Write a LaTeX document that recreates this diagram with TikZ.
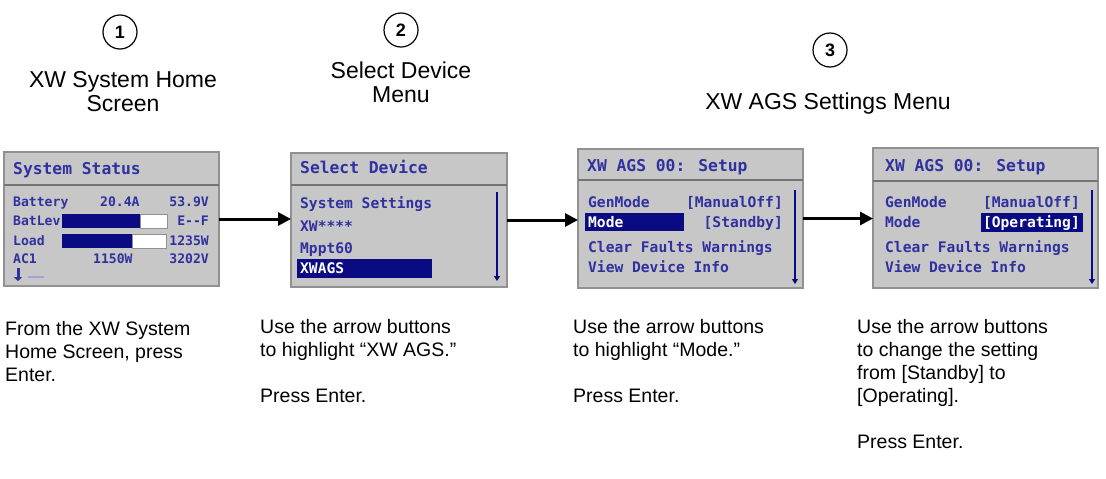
\documentclass[tikz,border=0pt]{standalone}
\usepackage{fontspec}
\setmainfont{Liberation Sans}
\newfontfamily\lcdfont{DejaVu Sans Mono}
\usepackage{tikz}
\usetikzlibrary{arrows.meta,positioning}

\definecolor{lcdbg}{RGB}{198,199,198}
\definecolor{lcdedge}{RGB}{145,145,145}
\definecolor{lcdink}{RGB}{48,48,160}
\definecolor{lcdsel}{RGB}{10,10,130}

\begin{document}
\begin{tikzpicture}[
  x=1pt, y=-1pt,
  screen/.style={draw=lcdedge, fill=lcdbg, line width=1.5pt, inner sep=0pt, outer sep=0pt, anchor=north west},
  hdr/.style={font=\lcdfont\bfseries\fontsize{16.3}{17}\selectfont, text=lcdink, anchor=base west, inner sep=0pt},
  lcdrow/.style={font=\lcdfont\bfseries\fontsize{14.6}{15}\selectfont, text=lcdink, anchor=base west, inner sep=0pt},
  statrow/.style={font=\lcdfont\bfseries\fontsize{13.1}{14}\selectfont, text=lcdink, anchor=base west, inner sep=0pt},
  picked/.style={text=white},
  sepline/.style={draw=lcdedge!80!black, line width=1.5pt},
  scroll/.style={draw=lcdsel, line width=1.8pt, -{Triangle[length=5pt,width=6pt]}},
  stepnote/.style={font=\fontsize{19.5}{23}\selectfont, align=left, anchor=north west, inner sep=0pt},
  steptitle/.style={font=\fontsize{23}{23.5}\selectfont, align=center, anchor=north, inner sep=0pt},
  stepnum/.style={circle, draw, line width=1.2pt, minimum size=34pt, inner sep=0pt, font=\bfseries\fontsize{18}{18}\selectfont},
  flow/.style={line width=3pt, -{Triangle[length=13pt,width=13pt]}}
]
\useasboundingbox (0,0) rectangle (1106,479);

% Step numbers and titles
\node[stepnum] (n1) at (120,32) {1};
\node[stepnum] (n2) at (401,30) {2};
\node[stepnum] (n3) at (830,50) {3};
\node[steptitle] (t1) at (123,71.5) {XW System Home\\Screen};
\node[steptitle] (t2) at (401,62) {Select Device\\Menu};
\node[steptitle] (t3) at (828,93) {XW AGS Settings Menu};

% Screen 1: system status
\node[screen, minimum width=215pt, minimum height=134pt] (s1) at (4,152) {};
\node[hdr] (s1h) at (13,174) {System Status};
\draw[sepline] (s1.west |- 0,185) -- (s1.east |- 0,185);
\node[statrow] (s1bat) at (13,206) {Battery};
\node[statrow] (s1amp) at (100,206) {20.4A};
\node[statrow, anchor=base east] (s1volt) at (209,206) {53.9V};
\node[statrow] (s1lev) at (13,225) {BatLev};
\fill[lcdsel] (62,214) rectangle (140,228);
\filldraw[fill=white, draw=lcdedge, line width=0.6pt] (140,214) rectangle (167,228);
\node[statrow, anchor=base east] (s1ef) at (209,225) {E{-}{-}F};
\node[statrow] (s1load) at (13,245) {Load};
\fill[lcdsel] (62,234) rectangle (132,248);
\filldraw[fill=white, draw=lcdedge, line width=0.6pt] (132,234) rectangle (166,248);
\node[statrow, anchor=base east] (s1watt) at (209,245) {1235W};
\node[statrow] (s1ac) at (13,263) {AC1};
\node[statrow] (s1acw) at (93,263) {1150W};
\node[statrow, anchor=base east] (s1acv) at (209,263) {3202V};
\draw[lcdink, line width=3pt, -{Triangle[length=4pt,width=8pt]}] (18,268) -- (18,281);
\draw[lcdink!45, line width=1.5pt] (28,277) -- (44,277);

% Screen 2: select device
\node[screen, minimum width=216pt, minimum height=134pt] (s2) at (291,153) {};
\node[hdr] (s2h) at (300,173) {Select Device};
\draw[sepline] (s2.west |- 0,185) -- (s2.east |- 0,185);
\node[lcdrow] (s2a) at (300,208) {System Settings};
\node[lcdrow] (s2b) at (300,231) {XW****};
\node[lcdrow] (s2c) at (300,253) {Mppt60};
\fill[lcdsel] (297,259) rectangle (432,278);
\node[lcdrow, picked] (s2d) at (300,273) {XWAGS};
\draw[scroll] (497,192) -- (497,281);

% Screen 3: AGS setup, Mode selected
\node[screen, minimum width=225pt, minimum height=139pt] (s3) at (578,149) {};
\node[hdr] (s3h) at (587,171) {XW AGS 00: Setup};
\draw[sepline] (s3.west |- 0,180) -- (s3.east |- 0,180);
\node[lcdrow] (s3a) at (588,207) {GenMode};
\node[lcdrow, anchor=base east] (s3av) at (783,207) {[ManualOff]};
\fill[lcdsel] (585,213) rectangle (684,231);
\node[lcdrow, picked] (s3b) at (588,227) {Mode};
\node[lcdrow, anchor=base east] (s3bv) at (783,227) {[Standby]};
\node[lcdrow] (s3c) at (588,252) {Clear Faults Warnings};
\node[lcdrow] (s3d) at (588,272) {View Device Info};
\draw[scroll] (795,190) -- (795,284);

% Screen 4: AGS setup, Operating selected
\node[screen, minimum width=225pt, minimum height=140pt] (s4) at (873,148) {};
\node[hdr] (s4h) at (885,171) {XW AGS 00: Setup};
\draw[sepline] (s4.west |- 0,181) -- (s4.east |- 0,181);
\node[lcdrow] (s4a) at (885,207) {GenMode};
\node[lcdrow, anchor=base east] (s4av) at (1080,207) {[ManualOff]};
\node[lcdrow] (s4b) at (885,227) {Mode};
\fill[lcdsel] (981,213) rectangle (1083,232);
\node[lcdrow, picked, anchor=base east] (s4bv) at (1080,227) {[Operating]};
\node[lcdrow] (s4c) at (885,252) {Clear Faults Warnings};
\node[lcdrow] (s4d) at (885,272) {View Device Info};
\draw[scroll] (1092,190) -- (1092,284);

% Arrows between screens
\draw[flow] (s1.east) -- (s1.east -| s2.west);
\draw[flow] (s2.east) -- (s2.east -| s3.west);
\draw[flow] (s3.east) -- (s3.east -| s4.west);

% Instructions under each screen
\node[stepnote] (d1) at (5,321) {From the XW System\\Home Screen, press\\Enter.};
\node[stepnote] (d2) at (260,319) {Use the arrow buttons\\to highlight “XW AGS.”\\[23pt]Press Enter.};
\node[stepnote] (d3) at (573,319) {Use the arrow buttons\\to highlight “Mode.”\\[23pt]Press Enter.};
\node[stepnote] (d4) at (857,319) {Use the arrow buttons\\to change the setting\\from [Standby] to\\{[Operating].}\\[23pt]Press Enter.};
\end{tikzpicture}
\end{document}
